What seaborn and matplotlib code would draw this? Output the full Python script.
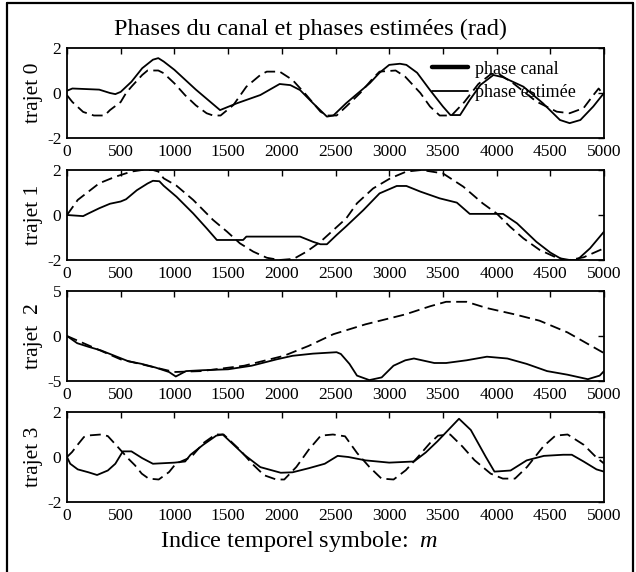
import numpy as np
import pandas as pd
import matplotlib
matplotlib.use("Agg")
import matplotlib.pyplot as plt
import seaborn as sns
from matplotlib.lines import Line2D

# ---------------- data ----------------
# trajet 0
t0_canal_x = [0, 50, 150, 250, 350, 400, 500, 550, 600, 700, 750, 850, 900, 1000, 1100, 1200, 1300, 1360, 1430,
              1550, 1670, 1800, 1860, 1980, 2100, 2230, 2360, 2420, 2510, 2600, 2730, 2850, 2910, 3060, 3150,
              3290, 3380, 3470, 3580, 3700, 3830, 3950, 4020, 4150, 4370, 4560, 4680, 4810, 4900, 4950, 5000]
t0_canal_y = [-0.1, -0.4, -0.84, -1.0, -1.0, -0.76, -0.4, 0.0, 0.28, 0.8, 1.0, 1.0, 0.88, 0.43, -0.1, -0.55, -0.9, -1.0, -1.0,
              -0.53, 0.28, 0.8, 0.95, 0.95, 0.58, -0.1, -0.83, -1.0, -1.0, -0.6, 0.0, 0.66, 0.95, 1.0, 0.72,
              0.0, -0.6, -1.0, -1.0, -0.4, 0.4, 0.85, 0.85, 0.45, -0.38, -0.83, -0.9, -0.67, -0.1, 0.2, -0.1]
t0_est_x = [0, 50, 300, 400, 450, 500, 600, 700, 800, 850, 900, 1000, 1200, 1425, 1580, 1800, 1980, 2080, 2170,
            2290, 2420, 2480, 2600, 2820, 2910, 3000, 3100, 3160, 3260, 3380, 3500, 3570, 3660, 3750, 3850,
            3970, 4060, 4250, 4430, 4590, 4680, 4780, 4900, 5000]
t0_est_y = [0.1, 0.2, 0.15, 0.0, -0.05, 0.05, 0.5, 1.1, 1.48, 1.55, 1.4, 1.03, 0.15, -0.76, -0.46, -0.09, 0.4, 0.35, 0.13,
            -0.45, -1.05, -1.0, -0.45, 0.44, 0.9, 1.25, 1.3, 1.25, 0.9, 0.13, -0.6, -0.98, -0.98, -0.31, 0.36,
            0.8, 0.7, 0.28, -0.45, -1.2, -1.34, -1.2, -0.6, 0.0]

# trajet 1
t1_canal_x = [0, 100, 200, 300, 450, 600, 700, 800, 850, 900, 1020, 1175, 1360, 1490, 1610, 1735, 1860, 1980, 2110,
              2230, 2360, 2480, 2600, 2700, 2850, 3010, 3160, 3300, 3500, 3690, 3870, 4000, 4125, 4250, 4400,
              4560, 4680, 4810, 5000]
t1_canal_y = [0.0, 0.67, 1.04, 1.41, 1.7, 1.93, 2.0, 2.0, 1.93, 1.63, 1.3, 0.67, -0.22, -0.74, -1.26, -1.63, -1.9, -2.0, -1.95,
              -1.63, -1.19, -0.67, -0.15, 0.52, 1.18, 1.63, 1.93, 2.0, 1.85, 1.26, 0.52, 0.07, -0.52, -1.04, -1.55,
              -1.9, -2.0, -1.88, -1.48]
t1_est_x = [0, 150, 200, 300, 400, 500, 550, 650, 750, 800, 860, 900, 1020, 1175, 1300, 1395, 1640, 1670, 2170,
            2290, 2360, 2420, 2510, 2600, 2760, 2910, 3070, 3160, 3290, 3470, 3630, 3750, 4060, 4190, 4370,
            4500, 4620, 4750, 4870, 5000]
t1_est_y = [0.0, -0.05, 0.07, 0.3, 0.5, 0.6, 0.7, 1.1, 1.4, 1.52, 1.5, 1.3, 0.81, 0.07, -0.59, -1.11, -1.11, -0.96, -0.96,
            -1.19, -1.3, -1.3, -0.89, -0.5, 0.22, 0.96, 1.29, 1.29, 1.04, 0.74, 0.55, 0.05, 0.05, -0.37, -1.19,
            -1.67, -2.0, -2.0, -1.48, -0.74]

# trajet 2
t2_canal_x = [0, 250, 500, 750, 1000, 1250, 1650, 2020, 2250, 2480, 2780, 3150, 3380, 3530, 3720, 3910, 4170, 4400, 4660, 5000]
t2_canal_y = [0.0, -1.3, -2.6, -3.3, -4.0, -3.9, -3.3, -2.2, -1.1, 0.2, 1.3, 2.4, 3.3, 3.8, 3.8, 3.1, 2.4, 1.7, 0.4, -1.9]
t2_est_x = [0, 95, 200, 316, 443, 570, 696, 823, 950, 1013, 1108, 1266, 1500, 1720, 1950, 2100, 2290, 2510, 2550,
            2630, 2700, 2815, 2930, 3040, 3150, 3230, 3420, 3530, 3720, 3910, 4100, 4280, 4470, 4660, 4850, 4960, 5000]
t2_est_y = [0.0, -0.8, -1.2, -1.6, -2.2, -2.8, -3.1, -3.5, -4.0, -4.5, -3.9, -3.8, -3.7, -3.3, -2.6, -2.2, -1.96, -1.8, -2.0,
            -3.1, -4.4, -4.9, -4.6, -3.3, -2.7, -2.5, -3.0, -3.0, -2.7, -2.3, -2.5, -3.1, -3.9, -4.3, -4.8, -4.4, -3.9]

# trajet 3
t3_canal_x = [0, 47, 95, 158, 206, 316, 380, 459, 570, 633, 696, 760, 854, 950, 1013, 1157, 1270, 1383, 1458, 1609,
              1722, 1835, 1948, 2023, 2136, 2250, 2363, 2476, 2589, 2702, 2815, 2928, 3041, 3154, 3267, 3380,
              3455, 3568, 3681, 3794, 3945, 4058, 4171, 4284, 4435, 4548, 4661, 4812, 4925, 5000]
t3_canal_y = [0.0, 0.22, 0.52, 0.89, 0.96, 1.0, 0.93, 0.52, -0.07, -0.37, -0.74, -0.96, -1.0, -0.67, -0.3, 0.0, 0.62, 1.0, 1.0, 0.32,
              -0.29, -0.81, -1.0, -1.0, -0.44, 0.32, 0.95, 1.0, 0.92, 0.17, -0.44, -0.96, -1.0, -0.59, 0.0, 0.62,
              0.95, 1.0, 0.47, -0.14, -0.74, -0.96, -0.96, -0.44, 0.47, 0.95, 1.0, 0.54, 0.0, -0.29]
t3_est_x = [0, 30, 100, 200, 280, 380, 450, 520, 600, 700, 800, 1000, 1100, 1150, 1270, 1390, 1450, 1650, 1800, 1990,
            2100, 2250, 2400, 2520, 2620, 2780, 3000, 3230, 3340, 3450, 3570, 3650, 3760, 3900, 3980, 4130,
            4280, 4440, 4620, 4700, 4810, 4930, 5000]
t3_est_y = [0.0, -0.3, -0.55, -0.68, -0.8, -0.6, -0.3, 0.25, 0.25, -0.05, -0.3, -0.25, -0.2, 0.1, 0.55, 0.95, 1.0, 0.1, -0.45, -0.7,
            -0.68, -0.5, -0.3, 0.05, 0.0, -0.15, -0.25, -0.2, 0.2, 0.7, 1.3, 1.7, 1.2, 0.0, -0.65, -0.6,
            -0.15, 0.05, 0.1, 0.1, -0.2, -0.55, -0.65]

panel_labels = ["trajet 0", "trajet 1", "trajet  2", "trajet 3"]
panel_limits = [2, 2, 5, 2]
x_ticks = list(range(0, 5001, 500))
legend_labels = ["phase canal", "phase estimée"]
title_text = "Phases du canal et phases estimées (rad)"
xlabel_text = "Indice temporel symbole:  $m$"

canal = [(t0_canal_x, t0_canal_y), (t1_canal_x, t1_canal_y), (t2_canal_x, t2_canal_y), (t3_canal_x, t3_canal_y)]
est = [(t0_est_x, t0_est_y), (t1_est_x, t1_est_y), (t2_est_x, t2_est_y), (t3_est_x, t3_est_y)]

# ---------------- style ----------------
sns.set_theme(style="white")
plt.rcParams["font.family"] = ["Liberation Serif", "DejaVu Serif"]
plt.rcParams["mathtext.fontset"] = "custom"
plt.rcParams["mathtext.rm"] = "Liberation Serif"
plt.rcParams["mathtext.it"] = "Liberation Serif:italic"
plt.rcParams["axes.unicode_minus"] = False
plt.rcParams["text.color"] = "black"
plt.rcParams["axes.labelcolor"] = "black"
plt.rcParams["xtick.color"] = "black"
plt.rcParams["ytick.color"] = "black"

W, H = 636, 572
fig = plt.figure(figsize=(W / 100, H / 100), dpi=100)
fig.patch.set_facecolor("white")

left_px, right_px = 67, 604
tops = [48, 170, 291, 412]
h_px = 90

for i in range(4):
    top = tops[i]
    ax = fig.add_axes([left_px / W, 1 - (top + h_px) / H, (right_px - left_px) / W, h_px / H])
    cx, cy = canal[i]
    ex, ey = est[i]
    df_c = pd.DataFrame({"m": cx, "phase": cy})
    df_e = pd.DataFrame({"m": ex, "phase": ey})
    sns.lineplot(data=df_c, x="m", y="phase", ax=ax, color="black", linewidth=1.3,
                 linestyle=(0, (6, 3)), estimator=None, sort=False)
    sns.lineplot(data=df_e, x="m", y="phase", ax=ax, color="black", linewidth=1.3,
                 estimator=None, sort=False)
    lim = panel_limits[i]
    ax.set_xlim(0, 5000)
    ax.set_ylim(-lim, lim)
    ax.set_xticks(x_ticks)
    ax.set_xticklabels([str(v) for v in x_ticks])
    ax.set_yticks([-lim, 0, lim])
    ax.set_yticklabels([str(-lim), "0", str(lim)])
    ax.tick_params(axis="both", direction="in", top=True, right=True, length=4, width=1.0,
                   labelsize=12.5, pad=4, colors="black")
    ax.set_xlabel("")
    ax.set_ylabel(panel_labels[i], fontsize=15.5, labelpad=2)
    ax.yaxis.set_label_coords(-0.045, 0.5)
    for s in ax.spines.values():
        s.set_color("black")
        s.set_linewidth(1.3)
        s.set_visible(True)
    ax.set_facecolor("white")
    if i == 0:
        handles = [Line2D([], [], color="black", linewidth=3.2),
                   Line2D([], [], color="black", linewidth=1.3)]
        ax.legend(handles, legend_labels, loc="upper left", bbox_to_anchor=(0.68, 0.86),
                  frameon=False, fontsize=13, handlelength=2.0, handletextpad=0.4,
                  labelspacing=0.35, borderpad=0.0, borderaxespad=0.0)

fig.text(311 / W, 1 - 29 / H, title_text, ha="center", va="center", fontsize=17.5)
fig.text(299 / W, 1 - 542 / H, xlabel_text, ha="center", va="center", fontsize=17.5)

# outer frame
fig.add_artist(Line2D([6.5 / W, 6.5 / W], [0, 1 - 2.5 / H], color="black", linewidth=1.6, transform=fig.transFigure))
fig.add_artist(Line2D([6.5 / W, 632.5 / W], [1 - 2.5 / H, 1 - 2.5 / H], color="black", linewidth=1.6, transform=fig.transFigure))
fig.add_artist(Line2D([632.5 / W, 632.5 / W], [0, 1 - 2.5 / H], color="black", linewidth=1.6, transform=fig.transFigure))

fig.savefig("out.png", dpi=100, facecolor="white")
